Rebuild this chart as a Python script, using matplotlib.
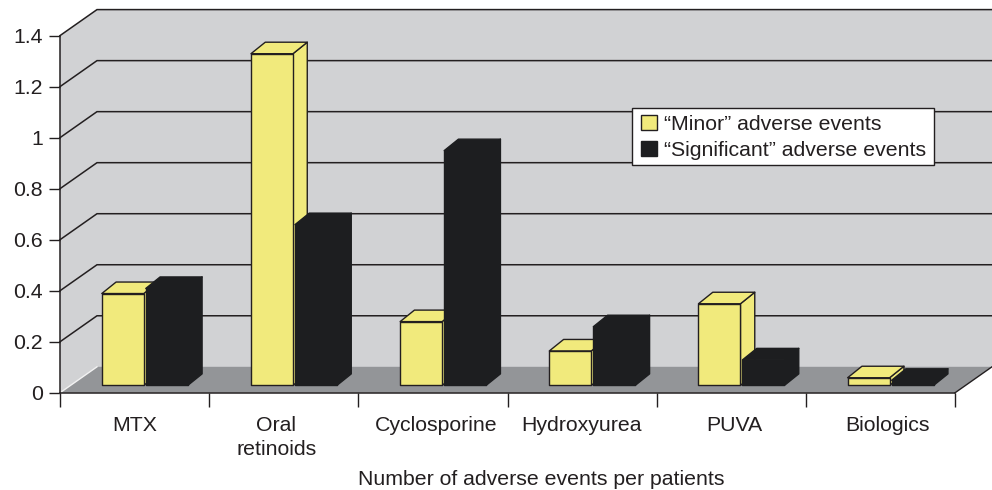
import matplotlib
matplotlib.use("Agg")
import matplotlib.pyplot as plt
from matplotlib.patches import Polygon, Patch, Rectangle
from matplotlib.transforms import ScaledTranslation

# ---- data ----
categories = ["MTX", "Oral\nretinoids", "Cyclosporine", "Hydroxyurea", "PUVA", "Biologics"]
minor_events = [0.36, 1.30, 0.25, 0.135, 0.32, 0.03]
significant_events = [0.38, 0.63, 0.92, 0.23, 0.10, 0.02]
y_ticks = [0, 0.2, 0.4, 0.6, 0.8, 1.0, 1.2, 1.4]
y_tick_labels = ["0", "0.2", "0.4", "0.6", "0.8", "1", "1.2", "1.4"]
x_label = "Number of adverse events per patients"
series_labels = ["\u201cMinor\u201d adverse events", "\u201cSignificant\u201d adverse events"]

# ---- style ----
YELLOW = "#f1ea7c"
BLACK = "#1d1e20"
WALL = "#d1d2d4"
FLOOR = "#939598"
LINE = "#231f20"
TEXT = "#231f20"
W, H = 992, 490
plt.rcParams["font.family"] = ["Liberation Sans", "DejaVu Sans"]
FS = 15.3
label_shift_px = [0, -7.5, 3, -1, 3, 7]   # horizontal nudges of the category labels

fig = plt.figure(figsize=(W / 100, H / 100), dpi=100)
L, R, T, B = 60, 955, 35.6, 392.8
ax = fig.add_axes([L / W, 1 - B / H, (R - L) / W, (B - T) / H])
ax.set_xlim(0, len(categories))
ax.set_ylim(0, 1.4)
ax.patch.set_visible(False)

PX = len(categories) / (R - L)    # categories per pixel
PY = 1.4 / (B - T)                # value units per pixel
DX, DY = 37 * PX, 26 * PY         # full depth of the 3-D box


def poly(pts, **kw):
    ax.add_patch(Polygon(pts, closed=True, clip_on=False, **kw))


n = len(categories)
ymax = y_ticks[-1]
# walls and floor
poly([(0, 0), (DX, DY), (DX, ymax + DY), (0, ymax)], fc=WALL, ec="none", zorder=1)
poly([(DX, DY), (n + DX, DY), (n + DX, ymax + DY), (DX, ymax + DY)], fc=WALL, ec="none", zorder=1)
poly([(0, 0), (DX, DY), (n + DX, DY), (n, 0)], fc=FLOOR, ec="none", zorder=1.5)
ax.plot([0, DX], [0, DY], color="#f2f2f2", lw=1, clip_on=False, zorder=1.6)
ax.plot([n, n + DX], [0, DY], color=LINE, lw=1, clip_on=False, zorder=1.6)
for v in y_ticks[1:]:
    ax.plot([0, DX, n + DX], [v, v + DY, v + DY], color=LINE, lw=1.1,
            clip_on=False, zorder=2, solid_joinstyle="miter")

# bars
BAR_W = 42 * PX
BAR_D = 0.285                       # depth of front plane in the box
FX, FY = DX * BAR_D, DY * BAR_D
SX, SY = 14.3 * PX, 11.5 * PY       # depth of the bar itself
Y_OFF = 41.8 * PX - FX              # gap from tick to yellow bar
B_OFF = Y_OFF + BAR_W + 2 * PX


def bar(i, off, v, color, edge, z):
    x0 = i + off + FX
    x1 = x0 + BAR_W
    y0 = FY
    y1 = FY + v
    kw = dict(fc=color, ec=edge, lw=1.0, zorder=z, joinstyle="round")
    poly([(x1, y0), (x1 + SX, y0 + SY), (x1 + SX, y1 + SY), (x1, y1)], **kw)
    poly([(x0, y1), (x0 + SX, y1 + SY), (x1 + SX, y1 + SY), (x1, y1)], **kw)
    poly([(x0, y0), (x1, y0), (x1, y1), (x0, y1)], **kw)


for i in range(n):
    bar(i, Y_OFF, minor_events[i], YELLOW, LINE, 3)
    bar(i, B_OFF, significant_events[i], BLACK, BLACK, 4)

# axes
for s in ("top", "right"):
    ax.spines[s].set_visible(False)
for s in ("left", "bottom"):
    ax.spines[s].set_color(LINE)
    ax.spines[s].set_linewidth(1.1)
    ax.spines[s].set_zorder(6)
ax.set_yticks(y_ticks)
ax.set_yticklabels(y_tick_labels, fontsize=FS, color=TEXT)
ax.tick_params(axis="y", length=8, width=1, color=LINE, pad=4.5)
ax.set_xticks(range(n + 1))
ax.set_xticklabels([])
ax.tick_params(axis="x", which="major", length=10, width=1, color=LINE)
ax.set_xticks([i + 0.5 for i in range(n)], minor=True)
ax.set_xticklabels(categories, minor=True, fontsize=FS, color=TEXT, linespacing=1.36)
ax.tick_params(axis="x", which="minor", length=0, pad=16.5)
for lab, dx in zip(ax.get_xticklabels(minor=True), label_shift_px):
    lab.set_transform(lab.get_transform() + ScaledTranslation(dx / 100, 0, fig.dpi_scale_trans))
ax.set_xlabel(x_label, fontsize=FS, color=TEXT)
ax.xaxis.set_label_coords((541 - L) / (R - L), -(479 - B) / (B - T), transform=ax.transAxes)
ax.xaxis.label.set_verticalalignment("center")

# legend: frame placed separately so its padding can differ per side
frame = Rectangle((632 / W, 1 - 165 / H), 302 / W, 57 / H, transform=fig.transFigure,
                  fc="white", ec=LINE, lw=1, zorder=9)
fig.add_artist(frame)
leg = fig.legend(
    handles=[Patch(fc=YELLOW, ec=LINE, lw=1), Patch(fc=BLACK, ec=BLACK, lw=1)],
    labels=series_labels, loc="upper left",
    bbox_to_anchor=(641 / W, 1 - 115 / H), bbox_transform=fig.transFigure,
    fontsize=FS, frameon=False, borderaxespad=0, borderpad=0, labelspacing=0.32,
    handlelength=0.73, handleheight=0.72, handletextpad=0.33, labelcolor=TEXT,
)
leg.set_zorder(10)

fig.savefig("out.png", dpi=100)
